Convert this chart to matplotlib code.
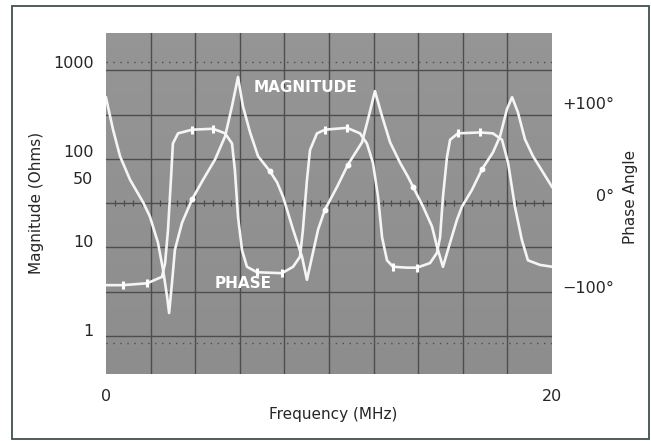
import numpy as np
import matplotlib
matplotlib.use("Agg")
import matplotlib.pyplot as plt

# magnitude trace (MHz, ohms)
mag_freq = [0.00, 0.31, 0.63, 1.08, 1.66, 1.97, 2.33, 2.56, 2.74, 2.83, 2.96, 3.09,
            3.41, 3.86, 4.35, 4.89, 5.34, 5.65, 5.92, 6.14, 6.46, 6.82, 7.35, 7.67,
            7.94, 8.39, 8.79, 9.01, 9.24, 9.51, 9.82, 10.36, 10.85, 11.48, 11.75,
            12.06, 12.38, 12.74, 13.18, 13.54, 13.77, 14.22, 14.62, 14.84, 15.11,
            15.43, 15.74, 15.96, 16.41, 16.86, 17.35, 17.67, 17.98, 18.21, 18.47,
            18.79, 19.15, 19.60, 20.00]
mag_ohms = [400, 177, 88, 48, 27, 18.6, 9.5, 4.7, 2.35, 1.55, 3.4, 7.9,
            15.9, 29, 48, 81, 147, 320, 678, 320, 163, 88, 60, 45,
            31, 13.3, 6.6, 3.65, 6.6, 13.3, 22.3, 40, 71, 126, 229,
            472, 247, 126, 75, 52, 40, 24, 14.4, 8.6, 5.1,
            9.5, 17.2, 24, 37, 63, 97, 147, 296, 404, 274,
            136, 88, 58, 40]

# phase trace (MHz, degrees)
ph_freq = [0.00, 0.76, 1.84, 2.51, 2.65, 2.78, 2.91, 3.00, 3.23, 3.86, 4.80, 5.34,
           5.65, 5.78, 5.92, 6.10, 6.32, 6.77, 7.89, 8.39, 8.70, 8.83, 9.01, 9.15,
           9.46, 9.82, 10.81, 11.39, 11.70, 11.97, 12.20, 12.38, 12.60, 12.87,
           13.50, 13.95, 14.53, 14.84, 14.98, 15.11, 15.29, 15.43, 15.78, 16.77,
           17.35, 17.76, 18.03, 18.34, 18.65, 18.92, 19.46, 20.00]
ph_deg = [-98, -98, -96, -89, -74, -38, 16, 56, 67, 71, 72, 67,
          56, 27, -24, -60, -78, -84, -85, -78, -67, -38, 16, 49,
          67, 71, 73, 67, 56, 35, -2, -46, -71, -78,
          -79, -79, -74, -63, -46, -2, 41, 60, 67, 68,
          67, 60, 35, -13, -49, -71, -76, -78]

# bright intensity dots on the traces (indices into the lists above)
mag_marks = [13, 22, 30, 32, 40, 49]
ph_marks = [1, 2, 9, 10, 17, 18, 25, 26, 33, 35, 42, 43]

mag_ticks = [1, 10, 50, 100, 1000]
ph_ticks = [-100, 0, 100]
ph_labels = ["\u2212100\u00b0", "0\u00b0", "+100\u00b0"]
freq_ticks = [0, 20]

txt = "#262626"
screen = "#8b8b8b"
gridc = "#4d4d4d"
trace = "#f5f5f5"
plt.rcParams["font.family"] = ["DejaVu Sans"]

fig = plt.figure(figsize=(6.51, 4.41), dpi=100)
fig.patch.set_facecolor("white")

# outer frame
fig.add_artist(plt.Rectangle((12 / 651, 2 / 441), 637 / 651, 433 / 441,
                             transform=fig.transFigure, fill=False,
                             edgecolor="#3f4f4f", lw=1.3))

ax = fig.add_axes([106 / 651, 67 / 441, 446 / 651, 341 / 441])
ax.set_facecolor(screen)
ax.set_yscale("log")
ax.set_xlim(0, 20)
ax.set_ylim(0.322, 2110)

# slight shading of the CRT face
shade = np.linspace(0, 1, 50)[:, None] * np.ones((1, 50))
ax.imshow(shade, extent=[0, 1, 0, 1], transform=ax.transAxes, cmap="Greys",
          vmin=-4, vmax=6, alpha=0.25, aspect="auto", zorder=0)

# graticule
for k in range(1, 10):
    ax.plot([k / 10, k / 10], [0, 1], transform=ax.transAxes, color=gridc, lw=1.0, zorder=1)
rows = [0.501 + 0.1298 * k for k in range(-3, 4)]
for r in rows:
    ax.plot([0, 1], [r, r], transform=ax.transAxes, color=gridc, lw=1.0, zorder=1)
for r in [0.916, 0.091]:
    ax.plot([0, 1], [r, r], transform=ax.transAxes, color=gridc, lw=1.0,
            ls=(0, (1, 4)), zorder=1)
minor = np.arange(0.02, 0.99, 0.02)
ax.plot(minor, [0.501] * len(minor), transform=ax.transAxes, ls="none", marker="|",
        ms=4, mew=0.9, color=gridc, zorder=1)

ax.plot(mag_freq, mag_ohms, color=trace, lw=1.9, solid_joinstyle="round", zorder=3)
ax.plot(mag_freq, mag_ohms, ls="none", marker="o", ms=3.2, color="white",
        markevery=mag_marks, zorder=4)

ax.set_yticks(mag_ticks, labels=[str(v) for v in mag_ticks])
ax.yaxis.set_minor_locator(matplotlib.ticker.NullLocator())
ax.set_xticks(freq_ticks, labels=[str(v) for v in freq_ticks])
ax.tick_params(length=0, labelsize=11.5, colors=txt)
ax.tick_params(axis="y", pad=9)
ax.tick_params(axis="x", pad=11)
for s in ax.spines.values():
    s.set_visible(False)

ax2 = ax.twinx()
ax2.set_ylim(-194.6, 176.1)
ax2.plot(ph_freq, ph_deg, color=trace, lw=1.9, solid_joinstyle="round", zorder=3)
ax2.plot(ph_freq, ph_deg, ls="none", marker="|", ms=6, mew=2.2, color="white",
         markevery=ph_marks, zorder=4)
ax2.set_yticks(ph_ticks, labels=ph_labels)
ax2.tick_params(length=0, labelsize=11.5, colors=txt, pad=45)
for lab in ax2.get_yticklabels():
    lab.set_horizontalalignment("right")
for s in ax2.spines.values():
    s.set_visible(False)

ax.text(0.448, 0.841, "MAGNITUDE", transform=ax.transAxes, ha="center", va="center",
        color="white", fontsize=11, fontweight="bold", zorder=5)
ax.text(0.308, 0.265, "PHASE", transform=ax.transAxes, ha="center", va="center",
        color="white", fontsize=11, fontweight="bold", zorder=5)

fig.text(37 / 651, 1 - 203 / 441, "Magnitude (Ohms)", rotation=90, ha="center",
         va="center", fontsize=11, color=txt)
fig.text(631 / 651, 1 - 197 / 441, "Phase Angle", rotation=90, ha="center",
         va="center", fontsize=11, color=txt)
fig.text(333 / 651, 1 - 415 / 441, "Frequency (MHz)", ha="center", va="center",
         fontsize=11, color=txt)

fig.savefig("out.png", dpi=100)
